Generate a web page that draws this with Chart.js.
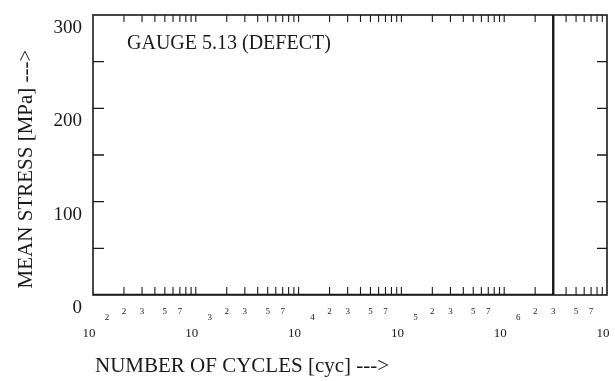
<!DOCTYPE html>
<html>
<head>
<meta charset="utf-8">
<script src="https://cdn.jsdelivr.net/npm/chart.js@4.4.1/dist/chart.umd.min.js"></script>
<style>
  html, body { margin: 0; padding: 0; background: #fff; }
  #wrap { width: 615px; height: 381px; }
</style>
</head>
<body>
<div id="wrap"><canvas id="myChart" width="615" height="381"></canvas></div>
<script>
// --- data ---
const cycles = [100, 3000000, 3000000];
const meanStress = [0, 0, 300];

// axis ticks
const yLabels = [0, 100, 200, 300];
const yTicks = [50, 100, 150, 200, 250];
const decades = [2, 3, 4, 5, 6, 7];
const minorLabels = [2, 3, 5, 7];

const ink = '#1a1a1a';
const serif = '"Liberation Serif", "DejaVu Serif", serif';

// frame, inward ticks and all the labels, placed through the chart scales
const axesPlugin = {
  id: 'axesPlugin',
  afterDraw(chart) {
    const ctx = chart.ctx;
    const xs = chart.scales.x;
    const ys = chart.scales.y;
    const a = chart.chartArea;
    ctx.save();
    ctx.strokeStyle = ink;
    ctx.fillStyle = ink;

    // frame
    ctx.lineWidth = 1.6;
    ctx.strokeRect(a.left, a.top, a.right - a.left, a.bottom - a.top);

    // y ticks, both sides
    ctx.lineWidth = 1.3;
    yTicks.forEach(v => {
      const py = ys.getPixelForValue(v);
      ctx.beginPath();
      ctx.moveTo(a.left, py); ctx.lineTo(a.left + 11, py);
      ctx.moveTo(a.right, py); ctx.lineTo(a.right - 10, py);
      ctx.stroke();
    });

    // x ticks (log), bottom and top
    ctx.lineWidth = 1.1;
    for (let d = 2; d < 7; d++) {
      for (let k = 1; k <= 9; k++) {
        const v = k * Math.pow(10, d);
        if (v <= xs.min || v >= xs.max) continue;
        const px = xs.getPixelForValue(v);
        ctx.beginPath();
        ctx.moveTo(px, a.bottom); ctx.lineTo(px, a.bottom - 8);
        ctx.moveTo(px, a.top); ctx.lineTo(px, a.top + 7);
        ctx.stroke();
      }
    }

    // y labels
    ctx.font = '19px ' + serif;
    ctx.textAlign = 'right';
    ctx.textBaseline = 'middle';
    yLabels.forEach(v => {
      ctx.fillText(String(v), 82, ys.getPixelForValue(v) + 13);
    });

    // x labels : 10 with exponent, small minor labels
    ctx.textAlign = 'center';
    decades.forEach(d => {
      const px = xs.getPixelForValue(Math.pow(10, d));
      ctx.font = '13px ' + serif;
      ctx.fillText('10', px - 4, 334);
      ctx.font = '9px ' + serif;
      ctx.fillText(String(d), px + 14, 318);
      if (d < 7) {
        minorLabels.forEach(k => {
          ctx.fillText(String(k), xs.getPixelForValue(k * Math.pow(10, d)), 312);
        });
      }
    });

    // axis titles
    ctx.font = '21px ' + serif;
    ctx.textAlign = 'left';
    ctx.fillText('NUMBER OF CYCLES [cyc] --->', 95, 366);

    ctx.save();
    ctx.translate(26, 169);
    ctx.rotate(-Math.PI / 2);
    ctx.textAlign = 'center';
    ctx.fillText('MEAN STRESS [MPa] --->', 0, 0);
    ctx.restore();

    // gauge label
    ctx.font = '20px ' + serif;
    ctx.textAlign = 'left';
    ctx.fillText('GAUGE 5.13 (DEFECT)', 127, 44);

    ctx.restore();
  }
};

const points = cycles.map((c, i) => ({ x: c, y: meanStress[i] }));

new Chart(document.getElementById('myChart'), {
  type: 'line',
  data: {
    datasets: [{
      data: points,
      borderColor: ink,
      borderWidth: 2.4,
      pointRadius: 0,
      tension: 0,
      fill: false
    }]
  },
  options: {
    responsive: false,
    animation: false,
    devicePixelRatio: 1,
    layout: { padding: { left: 93, right: 8, top: 15, bottom: 86 } },
    plugins: { legend: { display: false }, tooltip: { enabled: false } },
    scales: {
      x: { type: 'logarithmic', min: 100, max: 10000000, display: false },
      y: { type: 'linear', min: 0, max: 300, display: false }
    }
  },
  plugins: [axesPlugin]
});
</script>
</body>
</html>
